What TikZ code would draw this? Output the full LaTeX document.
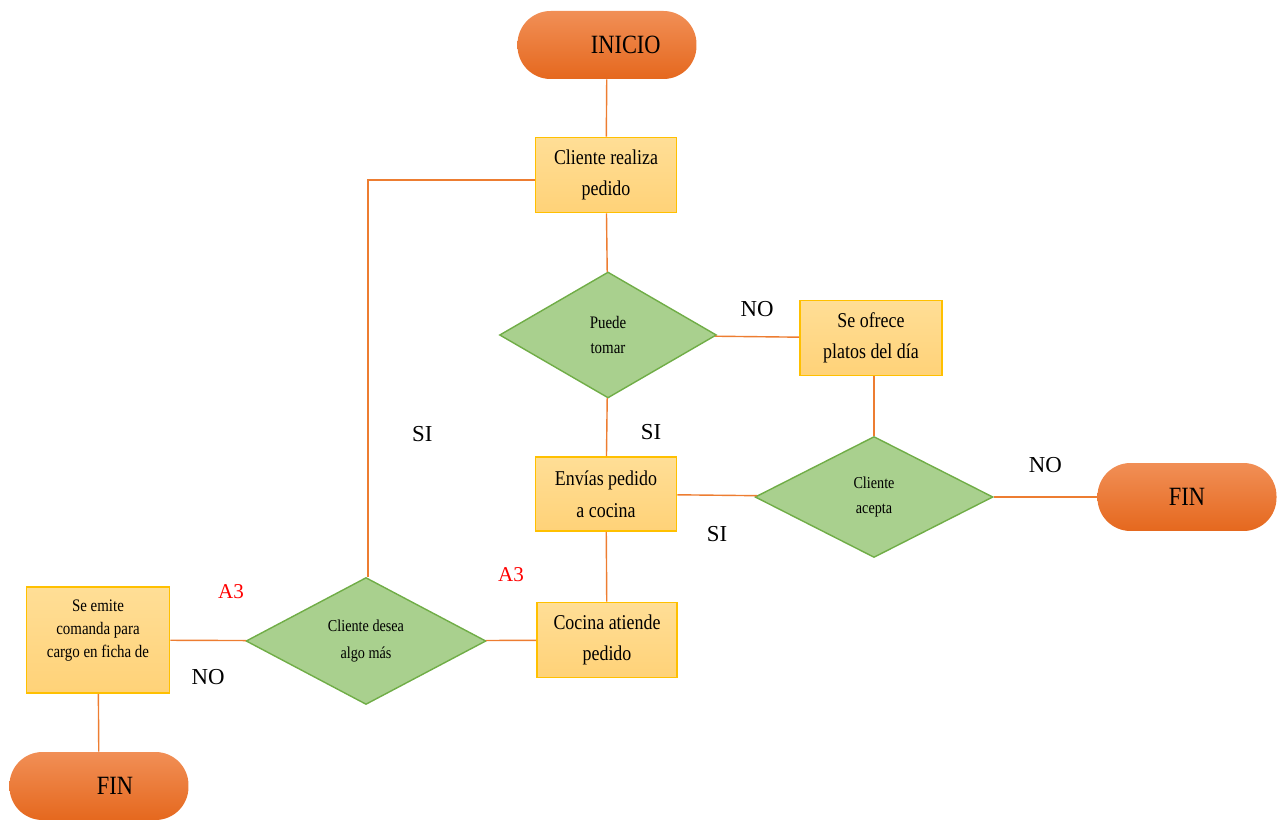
\documentclass[tikz,border=0pt]{standalone}
\usepackage{fontspec}
\setmainfont{Liberation Serif}
\newfontfamily\narrowfont[FakeStretch=0.85]{Liberation Serif}
\usetikzlibrary{shapes.geometric,positioning}
\definecolor{termtop}{RGB}{241,143,86}
\definecolor{termbot}{RGB}{229,104,30}
\definecolor{proctop}{RGB}{255,222,150}
\definecolor{procbot}{RGB}{255,210,120}
\definecolor{procdraw}{RGB}{255,192,0}
\definecolor{decfill}{RGB}{169,208,142}
\definecolor{decdraw}{RGB}{112,173,71}
\definecolor{linkcol}{RGB}{237,125,49}
\tikzset{%
	startstop/.style = {rectangle, rounded corners=0.66cm, top color=termtop, bottom color=termbot, minimum width=3.58cm, minimum height=1.36cm, font=\narrowfont\fontsize{15}{17}\selectfont}, % terminal
	process/.style   = {draw=procdraw, line width=0.9pt, top color=proctop, bottom color=procbot, rectangle, minimum width=2.82cm, minimum height=1.5cm, align=center, font=\narrowfont\fontsize{12}{18}\selectfont},
	decision/.style  = {draw=decdraw, line width=0.8pt, fill=decfill, diamond, inner sep=0pt, align=center, font=\narrowfont\fontsize{10}{14}\selectfont},
	link/.style      = {draw=linkcol, line width=0.8pt},
	answer/.style    = {font=\fontsize{13}{15}\selectfont},
	redtag/.style    = {text=red, font=\fontsize{12}{14}\selectfont},
}

\begin{document}
\begin{tikzpicture}[x=0.02cm,y=-0.02cm]
	\useasboundingbox (0,0) rectangle (1283,820);
	
	\node [startstop] (inicio) at (607,45) {\hspace*{0.75cm}INICIO};
	\node [process] (pedido) at (606,175) {Cliente realiza\\pedido};
	\node [decision,minimum width=4.34cm,minimum height=2.52cm] (puede) at (608,335) {Puede\\tomar};
	\node [process,minimum width=2.84cm] (platos) at (871,338) {Se ofrece\\platos del día};
	\node [decision,minimum width=4.76cm,minimum height=2.42cm,font=\narrowfont\fontsize{9.5}{14}\selectfont] (acepta) at (874,497) {Cliente\\acepta};
	\node [startstop] (fin1) at (1187,497) {FIN};
	\node [process,minimum height=1.48cm] (envias) at (606,494) {Envías pedido\\a cocina};
	\node [process,minimum width=2.8cm] (cocina) at (607,640) {Cocina atiende\\pedido};
	\node [decision,minimum width=4.8cm,minimum height=2.54cm,font=\narrowfont\fontsize{9.5}{15}\selectfont] (desea) at (366,641) {Cliente desea\\algo más};
	\node [process,minimum width=2.86cm,minimum height=2.12cm,font=\narrowfont\fontsize{10}{13}\selectfont] (emite) at (98,640) {Se emite\\comanda para\\cargo en ficha de\\\mbox{}};
	\node [startstop] (fin2) at (99,786) {\hspace*{0.64cm}FIN};
	
	\draw[link] (inicio) -- (pedido);
	\draw[link] (pedido) -- (puede);
	\draw[link] (puede) -- node[answer,above=0.26cm] {NO} (platos);
	\draw[link] (puede) -- node[answer,right=0.55cm,yshift=-0.1cm] {SI} (envias);
	\draw[link] (platos.south -| acepta.north) -- (acepta.north);
	\draw[link] (acepta) -- node[answer,above=0.36cm] {NO} (fin1);
	\draw[link] (acepta) -- node[answer,below=0.5cm] {SI} (envias);
	\draw[link] (envias) -- (cocina);
	\draw[link] (cocina) -- node[redtag,above=1.05cm] {A3} (desea);
	\draw[link] ([xshift=0.04cm]desea.north) |- node[answer,pos=0.18,right=0.75cm] {SI} ([yshift=-0.1cm]pedido.west);
	\draw[link] (desea) -- node[redtag,above=0.7cm,pos=0.2] {A3} node[answer,below=0.45cm] {NO} (emite);
	\draw[link] (emite) -- (fin2);
\end{tikzpicture}
\end{document}
